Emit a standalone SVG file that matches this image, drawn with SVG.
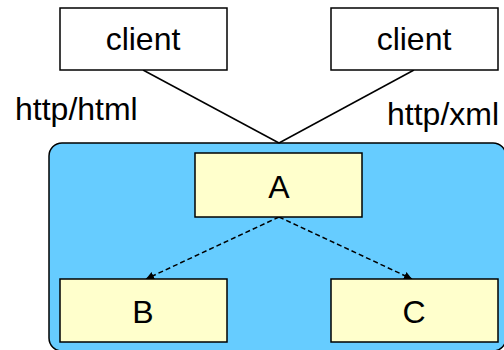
<svg xmlns="http://www.w3.org/2000/svg" width="504" height="350" viewBox="0 0 504 350">
<defs>
<style>
.box{fill:#fff;stroke:#000;stroke-width:1.5}
.ybox{fill:#ffffcc;stroke:#000;stroke-width:1.5}
text{font-family:"Liberation Sans",Arial,sans-serif;font-size:32px;fill:#000}
.c{text-anchor:middle}
.ln{stroke:#000;stroke-width:1.5;fill:none}
.dash{stroke:#000;stroke-width:1.5;fill:none;stroke-dasharray:5 3}
</style>
<marker id="ah" viewBox="0 0 10 10" refX="10" refY="5" markerWidth="8" markerHeight="8" markerUnits="userSpaceOnUse" orient="auto">
<path d="M0,0 L10,5 L0,10 z" fill="#000"/>
</marker>
</defs>
<rect x="49" y="143" width="457" height="208" rx="13" fill="#66ccff" stroke="#000" stroke-width="1.5"/>
<g id="connectors">
<line class="ln" x1="143" y1="70" x2="279" y2="143"/>
<line class="ln" x1="414" y1="70" x2="279" y2="143"/>
<line class="dash" x1="279" y1="217" x2="146" y2="279" marker-end="url(#ah)"/>
<line class="dash" x1="279" y1="217" x2="412" y2="279" marker-end="url(#ah)"/>
</g>
<g id="client1"><rect class="box" x="60" y="8" width="167" height="62"/><text class="c" x="143" y="50">client</text></g>
<g id="client2"><rect class="box" x="331" y="8" width="167" height="62"/><text class="c" x="414" y="50">client</text></g>
<g id="label1"><text x="15" y="120">http/html</text></g>
<g id="label2"><text x="387" y="125">http/xml</text></g>
<g id="A"><rect class="ybox" x="195" y="153" width="167" height="64"/><text class="c" x="279" y="198">A</text></g>
<g id="B"><rect class="ybox" x="60" y="279" width="167" height="63"/><text class="c" x="143" y="323">B</text></g>
<g id="C"><rect class="ybox" x="331" y="279" width="167" height="63"/><text class="c" x="414" y="323">C</text></g>
</svg>
